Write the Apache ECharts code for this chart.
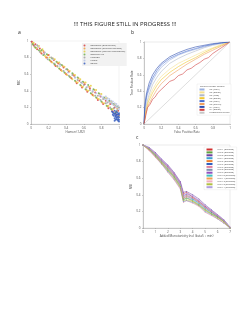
<!DOCTYPE html>
<html>
<head>
<meta charset="utf-8">
<script src="https://cdn.jsdelivr.net/npm/echarts@6/dist/echarts.min.js"></script>
<style>
  html, body { margin: 0; padding: 0; background: #fff; }
  #chart { width: 250px; height: 323px; }
</style>
</head>
<body>
<div id="chart"></div>
<script>
// ---- panel a: scatter ----
let scatterNames = ['Ensemble (one period)', 'Ensemble (multiple periods)', 'Ensemble (varying frequencies)', 'Baseline fits', 'Pearson', 'Linear', 'Spline']
let scatterColors = ['#d94040', '#f0a040', '#e8d040', '#70b050', '#a0a0a0', '#b8c4e8', '#3a5fc0']
let scatterRed = [[0.01,0.99],[0.03,0.95],[0.05,0.96],[0.07,0.9],[0.1,0.91],[0.12,0.85],[0.15,0.86],[0.18,0.8],[0.2,0.83],[0.23,0.75],[0.26,0.77],[0.28,0.7],[0.31,0.73],[0.34,0.65],[0.37,0.68],[0.4,0.6],[0.43,0.63],[0.46,0.55],[0.49,0.58],[0.52,0.49],[0.55,0.52],[0.58,0.44],[0.61,0.48],[0.64,0.39],[0.67,0.43],[0.7,0.35],[0.73,0.38],[0.76,0.29],[0.79,0.33],[0.82,0.24],[0.85,0.28],[0.88,0.19],[0.9,0.24],[0.93,0.15],[0.95,0.2],[0.97,0.11],[0.99,0.16]]
let scatterOrange = [[0.02,0.97],[0.04,0.93],[0.08,0.93],[0.11,0.86],[0.14,0.88],[0.17,0.8],[0.19,0.83],[0.22,0.76],[0.25,0.79],[0.27,0.71],[0.3,0.74],[0.33,0.66],[0.36,0.7],[0.39,0.61],[0.42,0.65],[0.45,0.56],[0.48,0.6],[0.51,0.51],[0.54,0.55],[0.57,0.46],[0.6,0.5],[0.63,0.41],[0.66,0.45],[0.69,0.36],[0.72,0.41],[0.75,0.31],[0.78,0.36],[0.81,0.26],[0.84,0.31],[0.87,0.21],[0.89,0.27],[0.92,0.17],[0.94,0.23],[0.96,0.13],[0.98,0.19],[1,0.1]]
let scatterYellow = [[0.03,0.98],[0.06,0.92],[0.09,0.94],[0.11,0.88],[0.13,0.9],[0.16,0.82],[0.21,0.8],[0.24,0.74],[0.27,0.78],[0.3,0.69],[0.32,0.74],[0.35,0.64],[0.38,0.69],[0.41,0.59],[0.44,0.64],[0.47,0.54],[0.5,0.59],[0.53,0.5],[0.56,0.54],[0.59,0.45],[0.62,0.5],[0.65,0.4],[0.68,0.46],[0.71,0.34],[0.74,0.41],[0.77,0.3],[0.8,0.36],[0.83,0.25],[0.86,0.31],[0.88,0.22],[0.91,0.27],[0.93,0.18],[0.95,0.24],[0.97,0.15],[0.99,0.2]]
let scatterGreen = [[0.02,0.96],[0.05,0.92],[0.09,0.89],[0.12,0.89],[0.14,0.83],[0.18,0.84],[0.21,0.77],[0.24,0.79],[0.27,0.72],[0.29,0.75],[0.32,0.67],[0.35,0.71],[0.38,0.62],[0.41,0.66],[0.44,0.57],[0.47,0.61],[0.5,0.52],[0.53,0.56],[0.56,0.47],[0.59,0.51],[0.62,0.42],[0.65,0.47],[0.68,0.37],[0.71,0.42],[0.74,0.32],[0.77,0.37],[0.8,0.27],[0.83,0.32],[0.86,0.22],[0.89,0.28],[0.91,0.18],[0.94,0.24],[0.96,0.14],[0.98,0.21]]
let scatterGray = [[0.04,0.94],[0.07,0.95],[0.1,0.87],[0.15,0.84],[0.19,0.78],[0.23,0.8],[0.26,0.73],[0.3,0.7],[0.33,0.72],[0.37,0.64],[0.4,0.66],[0.43,0.58],[0.47,0.59],[0.5,0.56],[0.53,0.53],[0.57,0.5],[0.6,0.47],[0.63,0.44],[0.67,0.41],[0.7,0.39],[0.73,0.34],[0.76,0.34],[0.79,0.29],[0.82,0.3],[0.85,0.25],[0.87,0.26],[0.9,0.2],[0.92,0.25],[0.94,0.19],[0.96,0.22],[0.98,0.17],[1,0.2]]
let scatterLavender = [[0.08,0.93],[0.16,0.86],[0.25,0.78],[0.33,0.7],[0.42,0.62],[0.5,0.56],[0.58,0.49],[0.64,0.45],[0.7,0.4],[0.74,0.37],[0.78,0.35],[0.8,0.33],[0.82,0.32],[0.84,0.3],[0.85,0.33],[0.86,0.29],[0.87,0.31],[0.88,0.27],[0.89,0.3],[0.9,0.26],[0.91,0.28],[0.92,0.24],[0.93,0.27],[0.94,0.23],[0.95,0.25],[0.96,0.21],[0.97,0.24],[0.98,0.2],[0.99,0.22],[1,0.18]]
let scatterBlue = [[0.93,0.14],[0.94,0.1],[0.95,0.12],[0.95,0.07],[0.96,0.13],[0.96,0.09],[0.97,0.11],[0.97,0.06],[0.98,0.14],[0.98,0.08],[0.98,0.05],[0.99,0.12],[0.99,0.09],[0.99,0.06],[1,0.11],[1,0.08],[1,0.05],[0.94,0.13],[0.96,0.05],[0.97,0.15],[0.92,0.15],[0.93,0.11],[0.95,0.16],[0.96,0.1],[0.97,0.08],[0.98,0.11],[0.99,0.04],[1,0.13],[1,0.03],[0.95,0.04]]
let scatterData = [scatterRed, scatterOrange, scatterYellow, scatterGreen, scatterGray, scatterLavender, scatterBlue]

// ---- panel b: ROC ----
let rocNames = ['h2 (MPK)', 'h2 (Rolim)', 'h2 (MFE)', 'h3 (Rolim)', 'h3 (MPK)', 'h3 (PM2.5)', 'h4 (MPK)', 'h4 (Rolim)', 'Unadjusted Curve']
let rocColors = ['#9ab0e0', '#f5e090', '#b0b8c8', '#f0c830', '#4a6fd0', '#f0a060', '#3050b0', '#d04040', '#c8c8c8']
let rocH2Mpk = [[0,0],[0.01,0.18],[0.03,0.32],[0.06,0.42],[0.1,0.53],[0.15,0.62],[0.2,0.69],[0.3,0.78],[0.4,0.84],[0.5,0.88],[0.6,0.91],[0.7,0.94],[0.8,0.97],[0.9,0.99],[1,1]]
let rocH2Rolim = [[0,0],[0.02,0.17],[0.05,0.3],[0.1,0.42],[0.15,0.51],[0.2,0.58],[0.3,0.67],[0.4,0.74],[0.5,0.79],[0.6,0.84],[0.7,0.89],[0.8,0.93],[0.9,0.97],[1,1]]
let rocH2Mfe = [[0,0],[0.02,0.2],[0.05,0.33],[0.1,0.48],[0.15,0.57],[0.2,0.64],[0.3,0.74],[0.4,0.8],[0.5,0.85],[0.6,0.89],[0.7,0.93],[0.8,0.96],[0.9,0.98],[1,1]]
let rocH3Rolim = [[0,0],[0.02,0.15],[0.05,0.27],[0.1,0.38],[0.15,0.47],[0.2,0.54],[0.3,0.63],[0.4,0.7],[0.5,0.76],[0.6,0.81],[0.7,0.87],[0.8,0.92],[0.9,0.96],[1,1]]
let rocH3Mpk = [[0,0],[0.01,0.2],[0.03,0.35],[0.06,0.45],[0.1,0.56],[0.15,0.65],[0.2,0.72],[0.3,0.8],[0.4,0.85],[0.5,0.89],[0.6,0.92],[0.7,0.95],[0.8,0.97],[0.9,0.99],[1,1]]
let rocH3Pm = [[0,0],[0.02,0.12],[0.05,0.23],[0.1,0.33],[0.15,0.42],[0.2,0.49],[0.3,0.59],[0.4,0.66],[0.5,0.73],[0.6,0.79],[0.7,0.85],[0.8,0.9],[0.9,0.95],[1,1]]
let rocH4Mpk = [[0,0],[0.01,0.24],[0.03,0.38],[0.06,0.5],[0.1,0.6],[0.15,0.68],[0.2,0.74],[0.3,0.82],[0.4,0.87],[0.5,0.91],[0.6,0.94],[0.7,0.96],[0.8,0.98],[0.9,0.99],[1,1]]
let rocH4Rolim = [[0,0],[0.02,0.1],[0.04,0.2],[0.07,0.24],[0.1,0.3],[0.13,0.33],[0.16,0.38],[0.2,0.42],[0.25,0.47],[0.3,0.52],[0.35,0.54],[0.4,0.59],[0.45,0.61],[0.5,0.66],[0.55,0.68],[0.6,0.72],[0.65,0.75],[0.7,0.79],[0.75,0.81],[0.8,0.86],[0.9,0.93],[1,1]]
let rocDiagonal = [[0,0],[1,1]]
let rocData = [rocH2Mpk, rocH2Rolim, rocH2Mfe, rocH3Rolim, rocH3Mpk, rocH3Pm, rocH4Mpk, rocH4Rolim, rocDiagonal]

// ---- panel c: runs ----
let runX = [0, 0.5, 1, 1.5, 2, 2.5, 3, 3.25, 3.5, 4, 4.5, 5, 5.5, 6, 6.5, 7]
let runNames = ['run 1 (periods)', 'run 2 (periods)', 'run 3 (periods)', 'run 4 (periods)', 'run 5 (periods)', 'run 6 (periods)', 'run 7 (periods)', 'run 8 (periods)', 'run 9 (periods)', 'run 10 (periods)', 'run 11 (periods)', 'run 12 (periods)', 'run 13 (periods)', 'run 14 (periods)']
let runColors = ['#d03030', '#60a040', '#7040a0', '#40a0d0', '#f08030', '#3060c0', '#e080a0', '#8090b0', '#9050c0', '#40c0c0', '#f0a050', '#f0b0c0', '#b0c040', '#b0a0e0']
let run1 = [1,0.96,0.89,0.81,0.74,0.65,0.54,0.41,0.43,0.37,0.32,0.26,0.2,0.15,0.09,0.01]
let run2 = [1,0.95,0.87,0.78,0.69,0.61,0.5,0.34,0.36,0.33,0.28,0.22,0.17,0.13,0.08,0]
let run3 = [1,0.97,0.91,0.83,0.76,0.67,0.56,0.43,0.44,0.4,0.35,0.28,0.22,0.16,0.1,0.01]
let run4 = [1,0.94,0.86,0.77,0.68,0.59,0.48,0.32,0.33,0.31,0.27,0.2,0.16,0.11,0.06,0]
let run5 = [1,0.95,0.89,0.8,0.72,0.63,0.52,0.37,0.39,0.36,0.31,0.25,0.19,0.14,0.08,0]
let run6 = [1,0.96,0.88,0.81,0.73,0.64,0.53,0.36,0.38,0.35,0.3,0.24,0.19,0.14,0.09,0.01]
let run7 = [1,0.93,0.85,0.77,0.67,0.58,0.47,0.31,0.33,0.3,0.26,0.19,0.15,0.11,0.06,0]
let run8 = [1,0.95,0.87,0.79,0.71,0.62,0.52,0.38,0.4,0.36,0.31,0.25,0.2,0.14,0.08,0]
let run9 = [1,0.96,0.9,0.82,0.75,0.66,0.55,0.39,0.41,0.38,0.33,0.26,0.21,0.15,0.09,0.01]
let run10 = [1,0.95,0.88,0.8,0.71,0.62,0.51,0.34,0.36,0.34,0.29,0.23,0.18,0.13,0.08,0]
let run11 = [1,0.94,0.86,0.78,0.7,0.6,0.49,0.35,0.37,0.32,0.28,0.22,0.17,0.12,0.07,0]
let run12 = [1,0.96,0.89,0.81,0.73,0.64,0.52,0.37,0.38,0.36,0.31,0.25,0.2,0.15,0.09,0.01]
let run13 = [1,0.95,0.88,0.79,0.7,0.62,0.5,0.33,0.34,0.32,0.27,0.21,0.17,0.13,0.08,0]
let run14 = [1,0.97,0.9,0.83,0.75,0.66,0.54,0.39,0.42,0.39,0.33,0.27,0.22,0.16,0.1,0.01]
let runData = [run1, run2, run3, run4, run5, run6, run7, run8, run9, run10, run11, run12, run13, run14]

let font = 'Open Sans, Liberation Sans, sans-serif'
let tickColor = '#555'

function axis(gridIndex, name, max, interval, gap) {
    return {
        type: 'value', gridIndex: gridIndex, min: 0, max: max, interval: interval,
        name: name, nameLocation: 'middle', nameGap: gap,
        nameTextStyle: { fontSize: 3, color: '#444', fontFamily: font },
        axisLine: { show: true, lineStyle: { color: '#999', width: 0.5 } },
        axisTick: { show: true, length: 1, lineStyle: { color: '#999', width: 0.5 } },
        axisLabel: { fontSize: 3, color: tickColor, margin: 2.5, fontFamily: font },
        splitLine: { show: false }
    }
}

let series = []
scatterData.forEach(function (d, i) {
    series.push({
        name: scatterNames[i], type: 'scatter', xAxisIndex: 0, yAxisIndex: 0,
        symbolSize: 2, itemStyle: { color: scatterColors[i], opacity: 0.85 }, data: d
    })
})
rocData.forEach(function (d, i) {
    series.push({
        name: rocNames[i], type: 'line', xAxisIndex: 1, yAxisIndex: 1,
        showSymbol: false, symbol: 'none', lineStyle: { color: rocColors[i], width: 0.6 },
        itemStyle: { color: rocColors[i] }, data: d
    })
})
runData.forEach(function (d, i) {
    series.push({
        name: runNames[i], type: 'line', xAxisIndex: 2, yAxisIndex: 2,
        symbol: 'circle', symbolSize: 0.9, lineStyle: { color: runColors[i], width: 0.5 },
        itemStyle: { color: runColors[i] },
        data: runX.map(function (x, j) { return [x, d[j]] })
    })
})

function legend(names, left, top, extra) {
    return Object.assign({
        data: names, orient: 'vertical', left: left, top: top,
        itemWidth: 5, itemHeight: 1.5, itemGap: 1,
        padding: 1.5, backgroundColor: '#fff', borderColor: '#ddd', borderWidth: 0.3,
        textStyle: { fontSize: 2.4, color: '#444', fontFamily: font },
        selectedMode: false
    }, extra || {})
}

let chart = echarts.init(document.getElementById('chart'), null, { renderer: 'canvas' })
chart.setOption({
    animation: false,
    title: {
        text: '!!! THIS FIGURE STILL IN PROGRESS !!!', left: 'center', top: 16,
        textStyle: { fontSize: 6, fontWeight: 'normal', color: '#222', fontFamily: font }
    },
    graphic: [
        { type: 'text', left: 18, top: 30, style: { text: 'a', fill: '#222', font: '5px ' + font } },
        { type: 'text', left: 131, top: 30, style: { text: 'b', fill: '#222', font: '5px ' + font } },
        { type: 'text', left: 136, top: 135, style: { text: 'c', fill: '#222', font: '5px ' + font } },
        { type: 'text', left: 200, top: 85.5, z: 100, style: { text: 'Ratio of Prescr Length', fill: '#444', font: '2.4px ' + font } }
    ],
    grid: [
        { left: 31, top: 41, width: 88, height: 83, show: true, borderColor: '#ddd', borderWidth: 0.4, outerBoundsMode: 'none' },
        { left: 144, top: 42, width: 86, height: 82, show: true, borderColor: '#ccc', borderWidth: 0.4, outerBoundsMode: 'none' },
        { left: 143, top: 145, width: 87, height: 83, show: true, borderColor: '#ccc', borderWidth: 0.4, outerBoundsMode: 'none' }
    ],
    xAxis: [
        axis(0, 'Hamon (1-R2)', 1, 0.2, 6),
        axis(1, 'False Positive Rate', 1, 0.2, 6),
        axis(2, 'Added Monotonicity (no) (beta5 + min)', 7, 1, 6)
    ],
    yAxis: [
        axis(0, 'MIC', 1, 0.2, 8),
        axis(1, 'True Positive Rate', 1, 0.2, 8),
        axis(2, 'NSE', 1, 0.2, 8)
    ],
    legend: [
        legend(scatterNames, 82, 43, { backgroundColor: '#f2f2f2', borderWidth: 0, itemWidth: 2, itemHeight: 2 }),
        legend(rocNames, 197, 84, { padding: [4.5, 1.5, 1.5, 1.5], itemGap: 0.9 }),
        legend(runNames, 204, 147, { itemGap: 0.9, itemWidth: 6 })
    ],
    series: series
})
</script>
</body>
</html>
